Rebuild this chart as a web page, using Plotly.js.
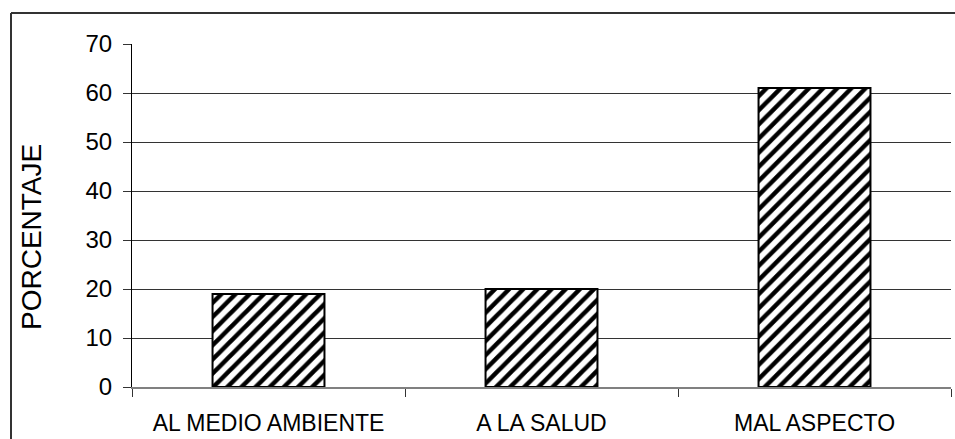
<!DOCTYPE html>
<html>
<head>
<meta charset="utf-8">
<script src="https://cdn.plot.ly/plotly-3.0.1.min.js"></script>
<style>
html,body{margin:0;padding:0;background:#fff;}
#chart{width:955px;height:439px;}
</style>
</head>
<body>
<div id="chart"></div>
<script>
// Data
var categories = ["AL MEDIO AMBIENTE", "A LA SALUD", "MAL ASPECTO"];
var values = [19, 20, 61];
var yTickVals = [0, 10, 20, 30, 40, 50, 60, 70];
var yTitle = "PORCENTAJE";

var W = 955, H = 439;
var M = {l: 132, r: 4, t: 44, b: 52};
var pw = W - M.l - M.r, ph = H - M.t - M.b;
function px2x(p){ return (p - M.l) / pw; }
function py2y(p){ return (H - M.b - p) / ph; }

var trace = {
  type: "bar",
  x: categories,
  y: values,
  marker: {
    color: "#ffffff",
    line: {color: "#000000", width: 2},
    pattern: {shape: "/", size: 10, solidity: 0.45, fgcolor: "#000000", fgopacity: 1, bgcolor: "#ffffff", fillmode: "replace"}
  },
  width: 0.41,
  hoverinfo: "skip"
};

var layout = {
  width: W, height: H,
  margin: M,
  paper_bgcolor: "#ffffff",
  plot_bgcolor: "#ffffff",
  showlegend: false,
  font: {family: "Liberation Sans, Arial, sans-serif", color: "#000000"},
  xaxis: {
    type: "category",
    range: [-0.5, 2.5],
    tickson: "boundaries",
    ticks: "outside",
    ticklen: 8,
    tickcolor: "#333333",
    tickwidth: 1,
    showgrid: false,
    showline: true,
    linecolor: "#808080",
    linewidth: 2,
    tickfont: {size: 23, color: "#000000"},
    ticklabelstandoff: 14,
    fixedrange: true
  },
  yaxis: {
    range: [0, 70],
    tickvals: yTickVals,
    ticktext: yTickVals.map(String),
    ticks: "outside",
    ticklen: 8,
    tickcolor: "#333333",
    showgrid: true,
    gridcolor: "#333333",
    gridwidth: 1,
    zeroline: false,
    showline: true,
    linecolor: "#000000",
    linewidth: 1,
    tickfont: {size: 24, color: "#000000"},
    ticklabelstandoff: 6,
    fixedrange: true
  },
  annotations: [{
    text: yTitle,
    xref: "paper", yref: "paper",
    x: px2x(31), y: py2y(237),
    xanchor: "center", yanchor: "middle",
    textangle: -90,
    showarrow: false,
    font: {size: 28, color: "#000000", family: "Liberation Sans, Arial, sans-serif"}
  }],
  shapes: [
    {type: "line", xref: "paper", yref: "paper", x0: px2x(11), x1: px2x(W + 2), y0: py2y(13), y1: py2y(13), line: {color: "#333333", width: 2}},
    {type: "line", xref: "paper", yref: "paper", x0: px2x(11), x1: px2x(11), y0: py2y(13), y1: py2y(H + 2), line: {color: "#333333", width: 2}}
  ]
};

Plotly.newPlot("chart", [trace], layout, {displayModeBar: false, staticPlot: true});
</script>
</body>
</html>
